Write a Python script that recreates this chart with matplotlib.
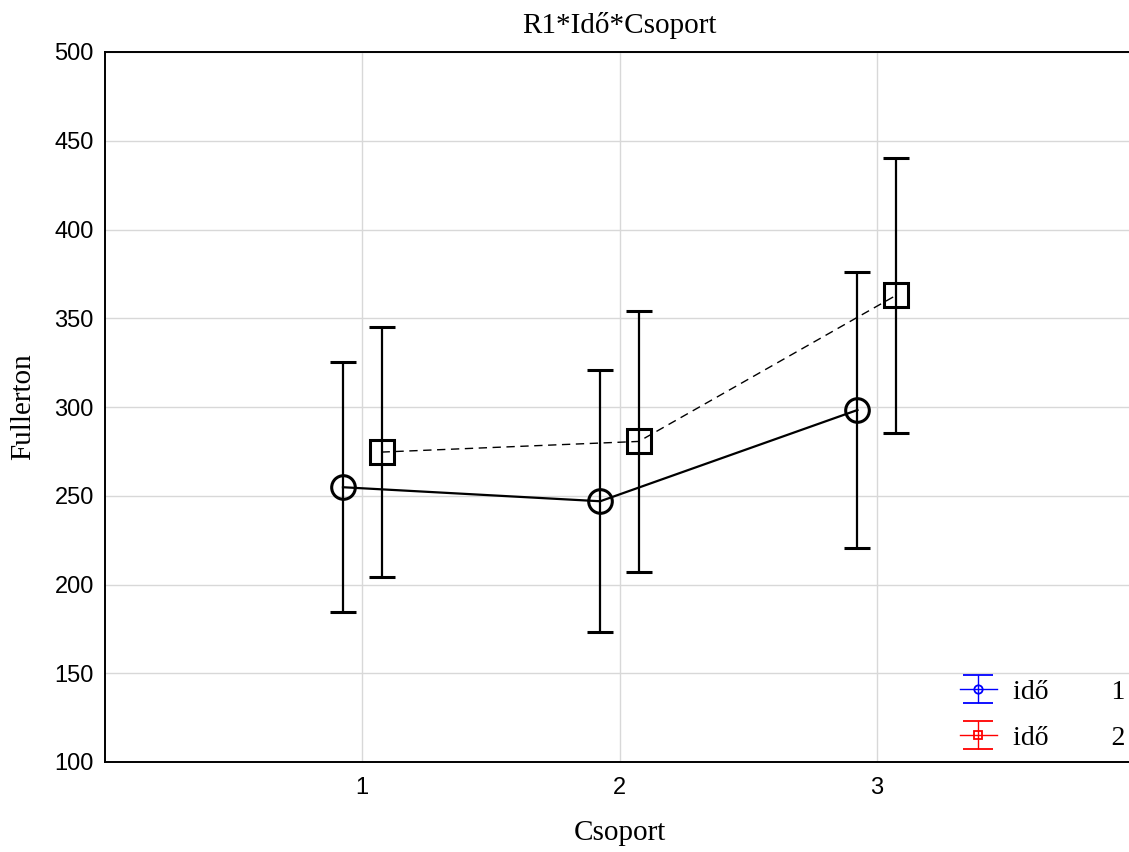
import matplotlib
matplotlib.use("Agg")
import matplotlib.pyplot as plt
import numpy as np

# Data
groups = [1, 2, 3]
group_labels = ["1", "2", "3"]
ido1_mean = [254.8, 246.9, 298.3]
ido1_err = [70.3, 73.8, 77.8]
ido2_mean = [274.6, 280.6, 362.9]
ido2_err = [70.5, 73.5, 77.5]
series_labels = ["idő", "idő"]
series_levels = ["1", "2"]
y_ticks = [100, 150, 200, 250, 300, 350, 400, 450, 500]

serif = ["Liberation Serif", "DejaVu Serif"]
sans = ["Liberation Sans", "DejaVu Sans"]

fig = plt.figure(figsize=(11.29, 8.52), dpi=100)
ax = fig.add_axes([105 / 1129, 1 - 762 / 852, 1029 / 1129, 710 / 852])

x = np.array(groups, dtype=float)
off = 0.075

ax.errorbar(x - off, ido1_mean, yerr=ido1_err, fmt='-', color='black', lw=1.6,
            elinewidth=1.6, capsize=9.5, capthick=1.6, marker='o', ms=17,
            mfc='none', mec='black', mew=2.2, zorder=3)
ax.errorbar(x + off, ido2_mean, yerr=ido2_err, fmt='--', color='black', lw=1.0,
            elinewidth=1.6, capsize=9.5, capthick=1.6, marker='s', ms=17,
            mfc='none', mec='black', mew=2.2, zorder=3, dashes=(6, 4))

# legend proxies
h1 = ax.errorbar([np.nan], [np.nan], yerr=[1], fmt='-', color='blue', lw=1.0,
                 elinewidth=1.0, capsize=11, capthick=1.0, marker='o', ms=6,
                 mfc='none', mec='blue', mew=1.3)
h2 = ax.errorbar([np.nan], [np.nan], yerr=[1], fmt='-', color='red', lw=1.0,
                 elinewidth=1.0, capsize=11, capthick=1.0, marker='s', ms=6,
                 mfc='none', mec='red', mew=1.3)
labels = [f"{series_labels[0]}         {series_levels[0]}",
          f"{series_labels[1]}         {series_levels[1]}"]
leg = ax.legend([h1, h2], labels, loc='lower right', frameon=False,
                prop={'family': serif, 'size': 20}, handlelength=1.3,
                labelspacing=0.75, borderaxespad=0.2, bbox_to_anchor=(1.008, -0.008),
                handletextpad=0.6)

ax.set_xlim(0, 4)
ax.set_ylim(100, 500)
ax.set_xticks(groups)
ax.set_xticklabels(group_labels)
ax.set_yticks(y_ticks)
ax.tick_params(length=0, labelsize=17)
ax.tick_params(axis='y', pad=8)
ax.tick_params(axis='x', pad=11)
for lab in ax.get_xticklabels() + ax.get_yticklabels():
    lab.set_family(sans)
ax.grid(True, color='#d8d8d8', lw=1.0, zorder=0)
ax.set_axisbelow(True)
ax.spines['right'].set_visible(False)
for s in ['left', 'top', 'bottom']:
    ax.spines[s].set_linewidth(1.4)

ax.set_title("R1*Idő*Csoport", family=serif, fontsize=21, pad=14)
ax.set_xlabel("Csoport", family=serif, fontsize=21, labelpad=15)
ax.set_ylabel("Fullerton", family=serif, fontsize=21, labelpad=13)

fig.savefig("out.png", dpi=100)
